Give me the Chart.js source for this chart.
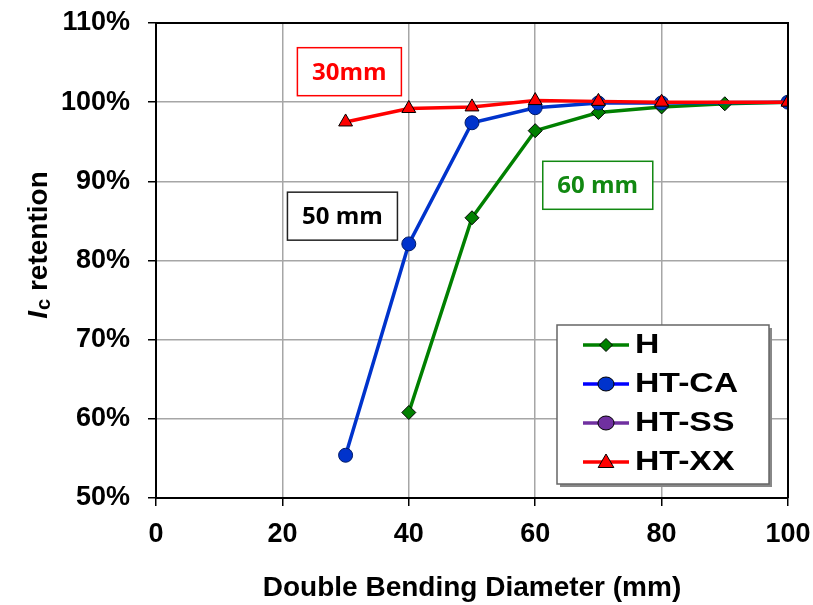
<!DOCTYPE html>
<html>
<head>
<meta charset="utf-8">
<script src="https://cdn.jsdelivr.net/npm/chart.js@4/dist/chart.umd.min.js"></script>
<style>
  html, body { margin: 0; padding: 0; background: #fff; }
  #wrap { width: 813px; height: 605px; }
</style>
</head>
<body>
<div id="wrap"><canvas id="c" width="813" height="605"></canvas></div>
<script>
// ---- data ----
const xTickValues = [0, 20, 40, 60, 80, 100];
const yTickLabels = ['50%', '60%', '70%', '80%', '90%', '100%', '110%'];

const hX = [40, 50, 60, 70, 80, 90, 100];
const hY = [0.608, 0.854, 0.964, 0.987, 0.994, 0.998, 1.000];

const caX = [30, 40, 50, 60, 70, 80, 100];
const caY = [0.554, 0.821, 0.974, 0.993, 0.999, 0.999, 1.000];

const ssX = [];
const ssY = [];

const xxX = [30, 40, 50, 60, 70, 80, 100];
const xxY = [0.975, 0.992, 0.994, 1.002, 1.001, 1.000, 1.000];

const seriesNames = ['H', 'HT-CA', 'HT-SS', 'HT-XX'];

// annotation labels (positions in data units)
const noteTexts = ['30mm', '50 mm', '60 mm'];
const noteX = [30.6, 29.5, 69.9];
const noteY = [1.0385, 0.856, 0.895];

const xTitle = 'Double Bending Diameter (mm)';

function pts(xs, ys) { return xs.map((x, i) => ({ x: x, y: ys[i] })); }

const GREEN = '#008000', BLUE = '#0033cc', PURPLE = '#7030a0', RED = '#ff0000';

Chart.defaults.font.family = "'Liberation Sans', Arial, sans-serif";

function drawMarker(ctx, style, x, y, r, fill) {
  ctx.save();
  ctx.beginPath();
  if (style === 'diamond') {
    ctx.moveTo(x, y - r); ctx.lineTo(x + r, y); ctx.lineTo(x, y + r); ctx.lineTo(x - r, y); ctx.closePath();
  } else if (style === 'circle') {
    ctx.ellipse(x, y, r * 1.15, r, 0, 0, Math.PI * 2);
  } else {
    const h = r * 0.87;
    ctx.moveTo(x, y - r); ctx.lineTo(x + h, y + r * 0.5); ctx.lineTo(x - h, y + r * 0.5); ctx.closePath();
  }
  ctx.fillStyle = fill; ctx.fill();
  ctx.lineWidth = 1; ctx.strokeStyle = '#000'; ctx.stroke();
  ctx.restore();
}

const extras = {
  id: 'extras',
  afterDraw(chart) {
    const ctx = chart.ctx, ca = chart.chartArea;
    const xs = chart.scales.x, ys = chart.scales.y;
    // top/right frame
    ctx.save();
    ctx.strokeStyle = '#000'; ctx.lineWidth = 2;
    ctx.beginPath();
    ctx.moveTo(ca.left, ca.top); ctx.lineTo(ca.right, ca.top); ctx.lineTo(ca.right, ca.bottom);
    ctx.stroke();
    ctx.restore();

    // annotation boxes
    const noteColors = [RED, '#000', '#118811'];
    const noteBorders = [RED, '#222', '#118811'];
    const noteW = [104, 110, 110];
    ctx.save();
    ctx.font = "bold 24px 'Open Sans', sans-serif";
    ctx.textAlign = 'center'; ctx.textBaseline = 'middle';
    for (let i = 0; i < noteTexts.length; i++) {
      const cx = xs.getPixelForValue(noteX[i]);
      const cy = ys.getPixelForValue(noteY[i]);
      const w = noteW[i], h = 48;
      ctx.fillStyle = '#fff';
      ctx.fillRect(cx - w / 2, cy - h / 2, w, h);
      ctx.strokeStyle = noteBorders[i]; ctx.lineWidth = 1.5;
      ctx.strokeRect(cx - w / 2, cy - h / 2, w, h);
      ctx.fillStyle = noteColors[i];
      ctx.fillText(noteTexts[i], cx, cy + 1);
    }
    ctx.restore();

    // legend
    const lx = ca.right - 231, ly = ca.bottom - 173, lw = 212, lh = 159;
    ctx.save();
    ctx.fillStyle = '#888';
    ctx.fillRect(lx + 3, ly + 3, lw, lh);
    ctx.fillStyle = '#fff';
    ctx.fillRect(lx, ly, lw, lh);
    ctx.strokeStyle = '#666'; ctx.lineWidth = 1.5;
    ctx.strokeRect(lx, ly, lw, lh);
    const lineCols = [GREEN, '#0000ff', PURPLE, RED];
    const fills = [GREEN, BLUE, PURPLE, RED];
    const styles = ['diamond', 'circle', 'circle', 'triangle'];
    const radii = [6.5, 7, 7, 9];
    for (let i = 0; i < seriesNames.length; i++) {
      const cy = ly + 20 + i * 39;
      ctx.strokeStyle = lineCols[i]; ctx.lineWidth = 3.5;
      ctx.beginPath(); ctx.moveTo(lx + 26, cy); ctx.lineTo(lx + 72, cy); ctx.stroke();
      drawMarker(ctx, styles[i], lx + 49, cy + (styles[i] === 'triangle' ? 1 : 0), radii[i], fills[i]);
      ctx.save();
      ctx.translate(lx + 78, cy + 1);
      ctx.scale(1.25, 1);
      ctx.font = "bold 27px 'Liberation Sans', Arial, sans-serif";
      ctx.fillStyle = '#000'; ctx.textAlign = 'left'; ctx.textBaseline = 'middle';
      ctx.fillText(seriesNames[i], 0, 0);
      ctx.restore();
    }
    ctx.restore();

    // y axis title: I_c retention
    ctx.save();
    ctx.translate(47, 245);
    ctx.rotate(-Math.PI / 2);
    ctx.fillStyle = '#000';
    ctx.textBaseline = 'alphabetic'; ctx.textAlign = 'left';
    const fMain = "bold 28px 'Liberation Sans', Arial, sans-serif";
    const fIt = "italic bold 28px 'Liberation Sans', Arial, sans-serif";
    const fSub = "bold 20px 'Liberation Sans', Arial, sans-serif";
    ctx.font = fIt; const wI = ctx.measureText('I').width + 1;
    ctx.font = fSub; const wc = ctx.measureText('c').width;
    ctx.font = fMain; const wr = ctx.measureText(' retention').width;
    let x0 = -(wI + wc + wr) / 2;
    ctx.font = fIt; ctx.fillText('I', x0, 0); x0 += wI;
    ctx.font = fSub; ctx.fillText('c', x0, 3); x0 += wc;
    ctx.font = fMain; ctx.fillText(' retention', x0, 0);
    ctx.restore();
  }
};

const tickFont = { size: 27, weight: 'bold', family: "'Liberation Sans', Arial, sans-serif" };

new Chart(document.getElementById('c'), {
  type: 'line',
  data: {
    datasets: [
      { label: seriesNames[3], data: pts(xxX, xxY), borderColor: RED, backgroundColor: RED,
        pointStyle: 'triangle', pointRadius: 8, pointBorderColor: '#000', pointBorderWidth: 1, borderWidth: 3.5, order: 0 },
      { label: seriesNames[2], data: pts(ssX, ssY), borderColor: PURPLE, backgroundColor: PURPLE,
        pointStyle: 'circle', pointRadius: 6.5, pointBorderColor: '#000', pointBorderWidth: 1, borderWidth: 3.5, order: 1 },
      { label: seriesNames[1], data: pts(caX, caY), borderColor: BLUE, backgroundColor: BLUE,
        pointStyle: 'circle', pointRadius: 7, pointBorderColor: '#001a66', pointBorderWidth: 1, borderWidth: 3.5, order: 2 },
      { label: seriesNames[0], data: pts(hX, hY), borderColor: GREEN, backgroundColor: GREEN,
        pointStyle: 'rectRot', pointRadius: 7, pointBorderColor: '#000', pointBorderWidth: 1, borderWidth: 3.5, order: 3 }
    ]
  },
  options: {
    responsive: false,
    animation: false,
    layout: { padding: { top: 23, right: 25, left: 0, bottom: 0 } },
    plugins: { legend: { display: false }, tooltip: { enabled: false } },
    scales: {
      x: {
        type: 'linear', min: xTickValues[0], max: xTickValues[xTickValues.length - 1],
        afterBuildTicks: s => { s.ticks = xTickValues.map(v => ({ value: v })); },
        afterFit: s => { s.height = 107; s.paddingLeft = 0; s.paddingRight = 0; },
        ticks: { font: tickFont, color: '#000', padding: 12, maxRotation: 0, callback: v => String(v) },
        grid: { color: '#a6a6a6', lineWidth: 1.5, tickLength: 8, tickColor: '#000', tickWidth: 1.5 },
        border: { color: '#000', width: 2 },
        title: { display: true, text: xTitle, color: '#000',
          font: { size: 28, weight: 'bold', family: "'Liberation Sans', Arial, sans-serif" },
          padding: { top: 0, bottom: 0 } }
      },
      y: {
        type: 'linear', min: 0.5, max: 1.1,
        afterBuildTicks: s => { s.ticks = yTickLabels.map((t, i) => ({ value: 0.5 + i * 0.1 })); },
        afterFit: s => { s.width = 156; s.paddingTop = 0; s.paddingBottom = 0; },
        ticks: { font: tickFont, color: '#000', padding: 18,
          callback: (v, i) => yTickLabels[i] },
        grid: { color: '#a6a6a6', lineWidth: 1.5, tickLength: 8, tickColor: '#000', tickWidth: 1.5 },
        border: { color: '#000', width: 2 }
      }
    }
  },
  plugins: [extras]
});
</script>
</body>
</html>
